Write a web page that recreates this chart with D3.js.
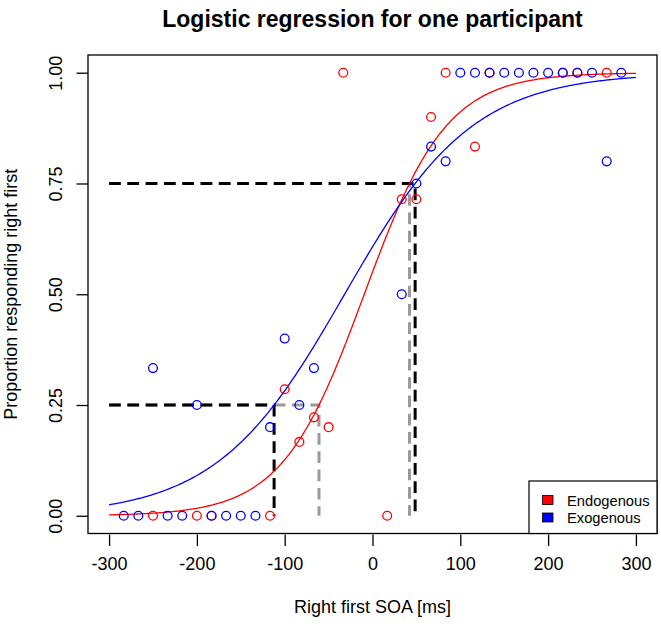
<!DOCTYPE html>
<html>
<head>
<meta charset="utf-8">
<script src="https://cdn.jsdelivr.net/npm/d3@7"></script>
<style>
  html, body { margin: 0; padding: 0; background: #fff; }
  svg { display: block; font-family: "Liberation Sans", Arial, Helvetica, sans-serif; }
</style>
</head>
<body>
<svg id="chart" width="661" height="628"></svg>
<script>
// ---- data ----
const title = "Logistic regression for one participant";
const xLabel = "Right first SOA [ms]";
const yLabel = "Proportion responding right first";
const xTicks = [-300, -200, -100, 0, 100, 200, 300];
const yTicks = [0, 0.25, 0.5, 0.75, 1];
const yTickLabels = ["0.00", "0.25", "0.50", "0.75", "1.00"];
const seriesNames = ["Endogenous", "Exogenous"];
const seriesColors = ["#ff0000", "#0000ff"];

// Endogenous (red) observed proportions
const endoSOA  = [-250, -200, -183.3, -116.7, -100, -83.3, -66.7, -50, -33.3, 16.7, 33.3, 50, 66.7, 83.3, 116.7, 133.3, 216.7, 233.3, 266.7];
const endoProp = [0, 0, 0, 0, 0.2857, 0.1667, 0.2222, 0.2, 1, 0, 0.7143, 0.7143, 0.9, 1, 0.8333, 1, 1, 1, 1];

// Exogenous (blue) observed proportions
const exoSOA  = [-283.3, -266.7, -250, -233.3, -216.7, -200, -183.3, -166.7, -150, -133.3, -116.7, -100, -83.3, -66.7, 33.3, 50, 66.7, 83.3, 100, 116.7, 133.3, 150, 166.7, 183.3, 200, 216.7, 233.3, 250, 266.7, 283.3];
const exoProp = [0, 0, 0.3333, 0, 0, 0.25, 0, 0, 0, 0, 0.2, 0.4, 0.25, 0.3333, 0.5, 0.75, 0.8333, 0.8, 1, 1, 1, 1, 1, 1, 1, 1, 1, 1, 0.8, 1];

// fitted logistic coefficients (intercept, slope) per series
const intercepts = [0.2004, 0.4343];
const slopes = [0.02132, 0.01368];
const thresholds = [0.25, 0.75];
const curveRange = [-300, 300];

// ---- layout ----
const svg = d3.select("#chart");
const box = { left: 88, right: 657, top: 55, bottom: 533.5 };
const x = d3.scaleLinear().domain([-324, 324]).range([box.left, box.right]);
const y = d3.scaleLinear().domain([-0.04, 1.04]).range([box.bottom, box.top]);

const logistic = (b0, b1) => v => 1 / (1 + Math.exp(-(b0 + b1 * v)));
const inverse = (b0, b1, p) => (Math.log(p / (1 - p)) - b0) / b1;

// title
svg.append("text").attr("x", (box.left + box.right) / 2).attr("y", 27)
  .attr("text-anchor", "middle").attr("font-weight", "bold").attr("font-size", 23)
  .text(title);

// dashed threshold guides: grey for Endogenous, black for Exogenous (drawn on top)
const guideColors = ["#9a9a9a", "#000000"];
[0, 1].forEach(i => {
  thresholds.forEach(p => {
    const xt = inverse(intercepts[i], slopes[i], p);
    const path = d3.line().x(d => x(d[0])).y(d => y(d[1]))([[curveRange[0], p], [xt, p], [xt, 0]]);
    svg.append("path").attr("d", path).attr("fill", "none")
      .attr("stroke", guideColors[i]).attr("stroke-width", 3)
      .attr("stroke-dasharray", "11.7 6.6");
  });
});

// fitted curves
[0, 1].forEach(i => {
  const f = logistic(intercepts[i], slopes[i]);
  const pts = d3.range(curveRange[0], curveRange[1] + 0.01, 2).map(v => [v, f(v)]);
  svg.append("path").attr("d", d3.line().x(d => x(d[0])).y(d => y(d[1]))(pts))
    .attr("fill", "none").attr("stroke", seriesColors[i]).attr("stroke-width", 1.3);
});

// points
const series = [[endoSOA, endoProp], [exoSOA, exoProp]];
series.forEach(([xs, ps], i) => {
  svg.append("g").selectAll("circle").data(xs.map((v, j) => [v, ps[j]])).enter()
    .append("circle").attr("cx", d => x(d[0])).attr("cy", d => y(d[1])).attr("r", 4.4)
    .attr("fill", "none").attr("stroke", seriesColors[i]).attr("stroke-width", 1.3);
});

// box
svg.append("rect").attr("x", box.left).attr("y", box.top)
  .attr("width", box.right - box.left).attr("height", box.bottom - box.top)
  .attr("fill", "none").attr("stroke", "#000").attr("stroke-width", 1.3);

// x axis
const xAxis = d3.axisBottom(x).tickValues(xTicks).tickSize(11.5).tickPadding(11).tickFormat(d3.format("d"));
const gx = svg.append("g").attr("transform", `translate(0,${box.bottom + 1})`).call(xAxis);
gx.select(".domain").remove();
gx.selectAll("line").attr("stroke", "#000").attr("stroke-width", 1.3);
gx.selectAll("text").attr("font-size", 18).attr("fill", "#000")
  .attr("font-family", "'Liberation Sans', Arial, Helvetica, sans-serif")
  .text(d => d < 0 ? "-" + Math.abs(d) : d);

// y axis
const yAxis = d3.axisLeft(y).tickValues(yTicks).tickSize(11.5).tickFormat((d, i) => yTickLabels[i]);
const gy = svg.append("g").attr("transform", `translate(${box.left},0)`).call(yAxis);
gy.select(".domain").remove();
gy.selectAll("line").attr("stroke", "#000").attr("stroke-width", 1.3);
gy.selectAll("text").attr("font-size", 18).attr("fill", "#000")
  .attr("font-family", "'Liberation Sans', Arial, Helvetica, sans-serif")
  .attr("x", null).attr("dy", null)
  .attr("text-anchor", "middle")
  .attr("transform", "translate(-26.5,0) rotate(-90)");

// axis labels
svg.append("text").attr("x", (box.left + box.right) / 2).attr("y", 613)
  .attr("text-anchor", "middle").attr("font-size", 18).text(xLabel);
svg.append("text").attr("transform", `translate(17,${(box.top + box.bottom) / 2}) rotate(-90)`)
  .attr("text-anchor", "middle").attr("font-size", 18).text(yLabel);

// legend
const lg = svg.append("g");
lg.append("rect").attr("x", 529).attr("y", 481).attr("width", box.right - 529).attr("height", box.bottom - 481)
  .attr("fill", "#fff").attr("stroke", "#000").attr("stroke-width", 1.2);
seriesNames.forEach((name, i) => {
  const cy = 500 + i * 17.5;
  lg.append("rect").attr("x", 542.5).attr("y", cy - 4.5).attr("width", 10.5).attr("height", 9)
    .attr("fill", seriesColors[i]).attr("stroke", "#000").attr("stroke-width", 0.8);
  lg.append("text").attr("x", 567).attr("y", cy + 5.5).attr("font-size", 14.7).text(name);
});
</script>
</body>
</html>
